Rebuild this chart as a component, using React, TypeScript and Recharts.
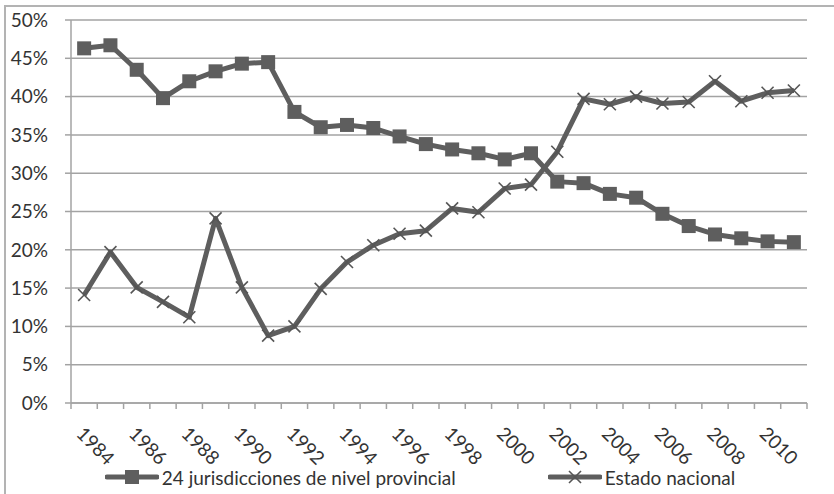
import { CartesianGrid, Legend, Line, LineChart, XAxis, YAxis } from "recharts";

const years = [
  1984, 1985, 1986, 1987, 1988, 1989, 1990, 1991, 1992, 1993, 1994, 1995, 1996, 1997,
  1998, 1999, 2000, 2001, 2002, 2003, 2004, 2005, 2006, 2007, 2008, 2009, 2010, 2011,
];
const provincial = [
  46.3, 46.7, 43.5, 39.8, 42.0, 43.3, 44.3, 44.5, 38.0, 36.0, 36.3, 35.9, 34.8, 33.8,
  33.1, 32.6, 31.8, 32.6, 28.9, 28.7, 27.3, 26.8, 24.7, 23.1, 22.0, 21.5, 21.1, 21.0,
];
const nacional = [
  14.1, 19.7, 15.1, 13.2, 11.2, 24.1, 15.1, 8.8, 10.0, 14.9, 18.4, 20.6, 22.1, 22.5,
  25.4, 24.9, 28.0, 28.5, 32.8, 39.7, 39.0, 40.0, 39.1, 39.3, 42.0, 39.4, 40.5, 40.8,
];
const labelYears = [1984, 1986, 1988, 1990, 1992, 1994, 1996, 1998, 2000, 2002, 2004, 2006, 2008, 2010];
const yTicks = [0, 5, 10, 15, 20, 25, 30, 35, 40, 45, 50];

const PROV_NAME = "24 jurisdicciones de nivel provincial";
const NAC_NAME = "Estado nacional";

const FONT = "Lato, 'Open Sans', sans-serif";
const TEXT = "#333333";
const GRID = "#a3a3a3";
const SERIES = "#5e5e5e";

const rows = years.map((year, i) => ({ year, prov: provincial[i], nac: nacional[i] }));

// category boundaries carry the tick marks, the even years carry the labels
const boundaries = [...years.map((y) => y - 0.5), years[years.length - 1] + 0.5];
const xTicks = [...boundaries, ...labelYears].sort((a, b) => a - b);

function YearTick(props: any) {
  const { x, y, payload } = props;
  const v = payload.value as number;
  if (!Number.isInteger(v)) {
    return <line x1={x} y1={y} x2={x} y2={y + 6} stroke={GRID} strokeWidth={1.5} />;
  }
  const ax = x - 9;
  const ay = y + 32;
  return (
    <text
      x={ax}
      y={ay}
      transform={`rotate(45 ${ax} ${ay})`}
      textAnchor="start"
      fontFamily={FONT}
      fontSize={19}
      fill={TEXT}
    >
      {v}
    </text>
  );
}

function SquareDot(props: any) {
  const { cx, cy, index } = props;
  if (cx == null || cy == null) return <g key={index} />;
  return <rect key={index} x={cx - 7} y={cy - 7} width={14} height={14} fill={SERIES} />;
}

function CrossDot(props: any) {
  const { cx, cy, index } = props;
  if (cx == null || cy == null) return <g key={index} />;
  const r = 6;
  return (
    <g key={index} stroke="#555" strokeWidth={1.6}>
      <line x1={cx - r} y1={cy - r} x2={cx + r} y2={cy + r} />
      <line x1={cx - r} y1={cy + r} x2={cx + r} y2={cy - r} />
    </g>
  );
}

function LegendItem({ kind, label }: { kind: "square" | "cross"; label: string }) {
  return (
    <div style={{ display: "flex", alignItems: "center" }}>
      <svg width={54} height={16} style={{ marginRight: 3 }}>
        <line x1={2} y1={8} x2={52} y2={8} stroke={SERIES} strokeWidth={5} strokeLinecap="round" />
        {kind === "square" ? (
          <rect x={20} y={1} width={14} height={14} fill={SERIES} />
        ) : (
          <g stroke="#555" strokeWidth={1.6}>
            <line x1={21} y1={2} x2={33} y2={14} />
            <line x1={21} y1={14} x2={33} y2={2} />
          </g>
        )}
      </svg>
      <span>{label}</span>
    </div>
  );
}

function LegendContent() {
  return (
    <div
      style={{
        display: "flex",
        justifyContent: "center",
        alignItems: "center",
        height: 26,
        fontFamily: FONT,
        fontSize: 19,
        color: TEXT,
      }}
    >
      <LegendItem kind="square" label={PROV_NAME} />
      <div style={{ width: 92 }} />
      <LegendItem kind="cross" label={NAC_NAME} />
    </div>
  );
}

export default function App() {
  return (
    <div style={{ position: "absolute", left: 0, top: 0, width: 834, height: 494, background: "#fff" }}>
      <div
        style={{
          position: "absolute",
          left: 4,
          top: 5,
          width: 840,
          height: 500,
          borderTop: `2px solid #b3b3b3`,
          borderLeft: `2px solid #b3b3b3`,
        }}
      />
      <LineChart
        width={834}
        height={494}
        data={rows}
        margin={{ top: 20, right: 27, left: 0, bottom: 4 }}
        style={{ position: "absolute", left: 0, top: 0 }}
      >
        <CartesianGrid vertical={false} stroke={GRID} strokeWidth={1.5} />
        <XAxis
          dataKey="year"
          type="number"
          domain={[1983.5, 2011.5]}
          ticks={xTicks}
          interval={0}
          tickLine={false}
          tickSize={0}
          tickMargin={0}
          height={61}
          axisLine={{ stroke: GRID, strokeWidth: 1.5 }}
          tick={YearTick}
        />
        <YAxis
          domain={[0, 50]}
          ticks={yTicks}
          interval={0}
          width={71}
          tickSize={6}
          tickMargin={17}
          tickFormatter={(v: number) => `${v}%`}
          tick={{ fontFamily: FONT, fontSize: 19, fill: TEXT }}
          tickLine={{ stroke: GRID, strokeWidth: 1.5 }}
          axisLine={{ stroke: GRID, strokeWidth: 1.5 }}
        />
        <Legend
          verticalAlign="bottom"
          content={<LegendContent />}
          wrapperStyle={{ left: 3, width: 834 }}
        />
        <Line
          dataKey="prov"
          name={PROV_NAME}
          stroke={SERIES}
          strokeWidth={5}
          strokeLinejoin="round"
          dot={SquareDot}
          activeDot={false}
          isAnimationActive={false}
        />
        <Line
          dataKey="nac"
          name={NAC_NAME}
          stroke={SERIES}
          strokeWidth={5}
          strokeLinejoin="round"
          dot={CrossDot}
          activeDot={false}
          isAnimationActive={false}
        />
      </LineChart>
    </div>
  );
}
